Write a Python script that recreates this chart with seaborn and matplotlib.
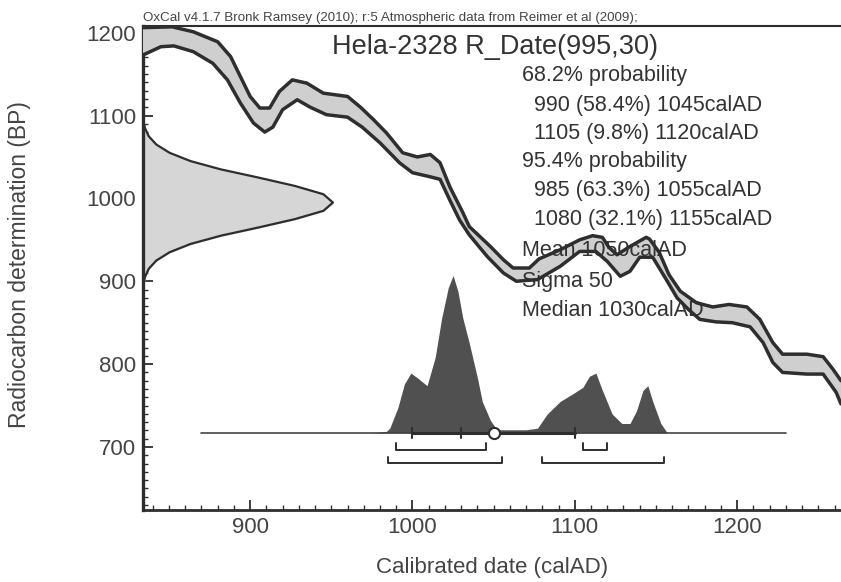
import numpy as np
import matplotlib
matplotlib.use("Agg")
import matplotlib.pyplot as plt
import seaborn as sns

# calibration curve band (IntCal09), edges
upper_years = [834, 852, 865, 880, 888, 894, 900, 906, 912, 918, 926, 935, 945, 960, 968, 976, 984,
               994, 1003, 1011, 1017, 1023, 1031, 1035, 1048, 1056, 1062, 1072, 1078, 1091, 1103,
               1111, 1117, 1121, 1126, 1134, 1144, 1146, 1152, 1158, 1165, 1175, 1185, 1195, 1206,
               1214, 1222, 1228, 1243, 1253, 1259, 1264]
upper_bp = [1206, 1207, 1201, 1189, 1171, 1147, 1123, 1109, 1109, 1129, 1143, 1139, 1127, 1123, 1110,
            1095, 1079, 1055, 1050, 1053, 1043, 1014, 983, 966, 942, 926, 916, 916, 927, 938, 950,
            955, 953, 941, 932, 942, 953, 951, 935, 908, 888, 874, 869, 872, 869, 854, 826, 812,
            812, 809, 794, 780]
lower_years = [834, 845, 853, 865, 877, 886, 894, 902, 909, 914, 920, 929, 937, 947, 960, 969, 980,
               992, 1000, 1011, 1017, 1023, 1029, 1035, 1046, 1056, 1064, 1077, 1091, 1103, 1113,
               1120, 1128, 1134, 1140, 1148, 1157, 1163, 1170, 1177, 1187, 1197, 1208, 1216, 1222,
               1228, 1243, 1253, 1261, 1264]
lower_bp = [1173, 1183, 1184, 1177, 1163, 1143, 1115, 1091, 1080, 1086, 1107, 1119, 1110, 1101, 1098,
            1086, 1067, 1043, 1031, 1026, 1023, 998, 974, 956, 930, 910, 900, 902, 918, 936, 936,
            924, 906, 912, 929, 929, 900, 880, 866, 854, 851, 850, 845, 826, 802, 790, 788, 788,
            766, 752]

# radiocarbon date R_Date(995,30), relative height
rdate_bp = [1095, 1085, 1075, 1065, 1055, 1045, 1035, 1025, 1015, 1005, 995,
            985, 975, 965, 955, 945, 935, 925, 915, 905, 895]
rdate_p = [0.0, 0.01, 0.03, 0.07, 0.14, 0.25, 0.41, 0.61, 0.80, 0.95, 1.0,
           0.95, 0.80, 0.61, 0.41, 0.25, 0.14, 0.07, 0.03, 0.01, 0.0]

# calibrated distribution, relative height
cal_years = [975, 984, 986, 991, 995, 999, 1003, 1009, 1014, 1018, 1022, 1025, 1028, 1031, 1035,
             1040, 1043, 1048, 1052, 1060, 1070, 1077, 1083, 1091, 1099, 1105, 1109, 1113, 1117,
             1123, 1129, 1134, 1138, 1142, 1145, 1148, 1153, 1157, 1165]
cal_prob = [0.0, 0.01, 0.03, 0.16, 0.31, 0.38, 0.35, 0.30, 0.48, 0.73, 0.92, 1.0, 0.90, 0.73, 0.57,
            0.35, 0.20, 0.08, 0.02, 0.02, 0.02, 0.03, 0.12, 0.20, 0.25, 0.29, 0.36, 0.38, 0.27,
            0.12, 0.06, 0.06, 0.14, 0.27, 0.30, 0.20, 0.06, 0.0, 0.0]

range68 = [(990, 1045), (1105, 1120)]
range95 = [(985, 1055), (1080, 1155)]
cal_mean, cal_sigma, cal_median = 1050, 50, 1030

header = "OxCal v4.1.7 Bronk Ramsey (2010); r:5 Atmospheric data from Reimer et al (2009);"
title = "Hela-2328 R_Date(995,30)"
info_lines = ["68.2% probability", "  990 (58.4%) 1045calAD", "  1105 (9.8%) 1120calAD",
              "95.4% probability", "  985 (63.3%) 1055calAD", "  1080 (32.1%) 1155calAD",
              "Mean 1050calAD", "Sigma 50", "Median 1030calAD"]
info_y = [76, 105, 133, 162, 191, 220, 250, 281, 310]

sns.set_style("white")
plt.rcParams['font.family'] = ['Liberation Sans', 'DejaVu Sans']
ink = '#2e2e2e'

W, H = 841, 582
fig = plt.figure(figsize=(W / 100, H / 100), dpi=100)
ax = fig.add_axes([143 / W, 1 - 510 / H, 698 / W, 484 / H])
ax.set_xlim(834, 1264)
ax.set_ylim(624, 1208)

# info text: over the band fill, under the band edges
for txt, y in zip(info_lines, info_y):
    ax.text(522 / W, 1 - y / H, txt, transform=fig.transFigure, fontsize=15.5,
            color='#333333', va='center', ha='left', zorder=4.5)

# R_Date on the y axis
x0 = 834
rx = [x0 + p * 117 for p in rdate_p]
ax.fill_betweenx(rdate_bp, x0, rx, color='#d6d6d6', zorder=2)
ax.plot(rx, rdate_bp, color=ink, lw=1.6, zorder=3)

# calibration curve band
poly_x = upper_years + lower_years[::-1]
poly_y = upper_bp + lower_bp[::-1]
ax.fill(poly_x, poly_y, color='#cfcfcf', zorder=4, lw=0)
sns.lineplot(x=upper_years, y=upper_bp, ax=ax, color=ink, lw=2.5, zorder=5)
sns.lineplot(x=lower_years, y=lower_bp, ax=ax, color=ink, lw=2.5, zorder=5)

# calibrated distribution
base = 717
cal_top = [base + p * 190 for p in cal_prob]
ax.fill_between(cal_years, base, cal_top, color='#505050', lw=0, zorder=6)
ax.plot([870, 1230], [base, base], color='#444444', lw=1.2, zorder=7)
ax.plot([cal_mean - cal_sigma, cal_mean + cal_sigma], [base, base], color=ink, lw=2.2, zorder=7)
for t in [cal_mean - cal_sigma, cal_median, cal_mean + cal_sigma]:
    ax.plot([t, t], [base - 6, base + 6], color=ink, lw=1.5, zorder=7)
ax.plot([cal_mean], [base], marker='o', ms=8, mfc='white', mec=ink, mew=1.5, zorder=8)

# probability ranges
for lo, hi in range68:
    ax.plot([lo, lo, hi, hi], [705, 697, 697, 705], color=ink, lw=1.4, zorder=7)
for lo, hi in range95:
    ax.plot([lo, lo, hi, hi], [688, 681, 681, 688], color=ink, lw=1.4, zorder=7)

# axes styling
ax.set_xticks([900, 1000, 1100, 1200])
ax.set_yticks([700, 800, 900, 1000, 1100, 1200])
ax.set_xticks(np.arange(840, 1265, 10), minor=True)
ax.set_yticks(np.arange(630, 1208, 10), minor=True)
ax.tick_params(which='major', direction='in', length=7, width=1.3, color=ink,
               labelsize=16, labelcolor='#444444', pad=5)
ax.tick_params(which='minor', direction='in', length=3.5, width=1.0, color=ink)
ax.tick_params(top=False, right=False, bottom=True, left=True, which='both')
for side in ['left', 'bottom', 'top']:
    ax.spines[side].set_color(ink)
ax.spines['left'].set_linewidth(2.4)
ax.spines['bottom'].set_linewidth(2.0)
ax.spines['top'].set_linewidth(1.5)
ax.spines['right'].set_visible(False)

ax.set_xlabel("Calibrated date (calAD)", fontsize=16, color='#444444')
ax.set_ylabel("Radiocarbon determination (BP)", fontsize=16.5, color='#444444')
ax.xaxis.set_label_coords(0.5, (510 - 568) / 484)
ax.xaxis.label.set_va('center')
ax.yaxis.set_label_coords((20 - 143) / 698, (510 - 265) / 484)
ax.yaxis.label.set_va('center')

fig.text(495 / W, 1 - 47 / H, title, fontsize=19.5, color='#333333', ha='center', va='center')
fig.text(143 / W, 1 - 18 / H, header, fontsize=9.6, color='#444444', ha='left', va='center')

fig.savefig("out.png", dpi=100, facecolor='white')
